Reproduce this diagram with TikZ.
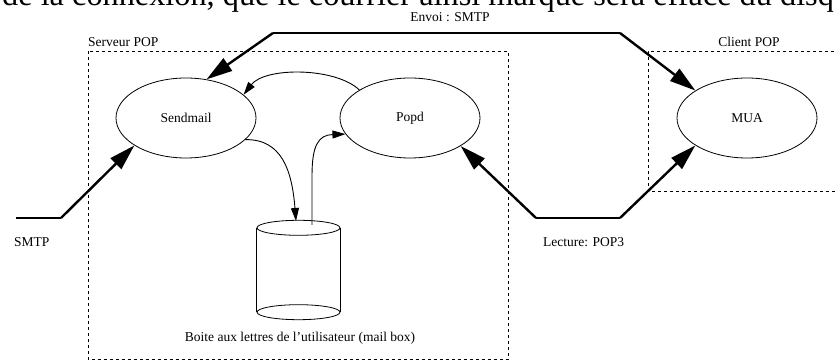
\documentclass[tikz,border=0pt]{standalone}
\usepackage{fontspec}
\setmainfont{Liberation Serif}
\usetikzlibrary{arrows.meta,shapes.geometric}
\begin{document}
\begin{tikzpicture}[x=1pt,y=1pt,
  lbl/.style={font=\fontsize{13.5}{15}\selectfont, inner sep=0pt},
  proc/.style={draw, ellipse, line width=0.8pt, minimum width=140pt, minimum height=80pt, inner sep=0pt, font=\fontsize{13.5}{15}\selectfont},
  boxline/.style={line width=0.9pt, dash pattern=on 3pt off 3pt},
  thinline/.style={line width=1.2pt},
  bigarrow/.style={line width=2.4pt, -{Triangle[length=26pt,width=15pt]}},
  smallarrow/.style={line width=0.9pt, -{Triangle[length=13pt,width=8pt]}}]
\useasboundingbox (0,0) rectangle (835,361);
\clip (0,0) rectangle (835,361);
% clipped text line at the top
\node[anchor=base west, inner sep=0pt, font=\fontsize{32.3}{35}\selectfont] (toptext) at (2,355)
  {de la connexion, que le courrier ainsi marqué sera effacé du disque};
% boxes
\draw[boxline] (88,310) rectangle (508,1.5);
\draw[boxline] (840,310) -- (648,310) -- (648,170) -- (840,170);
\node[lbl, anchor=west] (srvlbl) at (88,319) {Serveur POP};
\node[lbl] (clilbl) at (749,319) {Client POP};
% processes
\node[proc] (s) at (186,243) {Sendmail};
\node[proc] (p) at (410,243) {Popd};
\node[proc] (m) at (747,243) {MUA};
% mailbox cylinder
\node[minimum width=83pt, minimum height=84pt, inner sep=0pt] (mb) at (298.5,91) {};
\draw[line width=0.8pt] (mb.north) ellipse [x radius=41.5, y radius=7.5];
\draw[line width=0.8pt] (mb.south) ellipse [x radius=41.5, y radius=7.5];
\draw[line width=0.8pt] (mb.north west) -- (mb.south west);
\draw[line width=0.8pt] (mb.north east) -- (mb.south east);
\node[lbl] (mblbl) at (300,23) {Boite aux lettres de l'utilisateur (mail box)};
% labels
\node[lbl] (envlbl) at (450,344) {Envoi : SMTP};
\node[lbl, anchor=west] (smtplbl) at (14,119) {SMTP};
\node[lbl, anchor=west] (leclbl) at (543,119) {Lecture: POP3};
% SMTP in
\coordinate (smtpA) at (16,143);
\coordinate (smtpB) at (61,143);
\draw[thinline] (smtpA) -- (smtpB);
\draw[bigarrow] (smtpB) -- (s.208.7);
% Envoi : SMTP
\coordinate (envA) at (273,328);
\coordinate (envB) at (620,328);
\draw[thinline] (envA) -- (envB);
\draw[bigarrow] (envA) -- (s.62.3);
\draw[bigarrow] (envB) -- (m.152.6);
% Lecture: POP3
\coordinate (lecA) at (536,143);
\coordinate (lecB) at (620,143);
\draw[thinline] (lecA) -- (lecB);
\draw[bigarrow] (lecA) -- (p.331.8);
\draw[bigarrow] (lecB) -- (m.208.2);
% internal flows
\draw[smallarrow] (p.151.7) .. controls (335,294) and (265,294) .. (s.22.6);
\coordinate (mbin) at (296,140);
\draw[smallarrow] (s.340.7) .. controls (282,222) and (292,190) .. (mbin);
\coordinate (mbout) at (312,136);
\coordinate (mbup) at (312,185);
\draw[smallarrow] (mbout) -- (mbup) .. controls (312,215) and (318,226) .. (p.194);
\end{tikzpicture}
\end{document}
